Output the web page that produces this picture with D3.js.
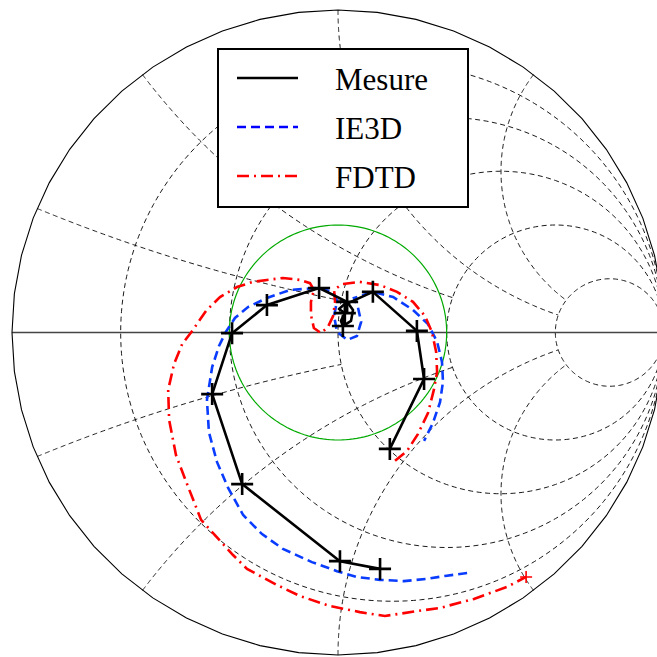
<!DOCTYPE html>
<html><head><meta charset="utf-8">
<script src="https://cdn.jsdelivr.net/npm/d3@7"></script>
<style>html,body{margin:0;padding:0;background:#fff}</style>
</head><body><svg id="c" width="657" height="657"></svg>
<script>
// ---- grid definition (Smith chart, normalized impedance) ----
const resistanceValues = [0.2, 0.5, 1, 2, 5];
const reactanceValues  = [0.2, 0.5, 1, 2];
const reactanceEnds    = [1, 2, 5, 5];   // each x-arc drawn for 0 <= r <= end
const vswrRadius = 1/3;                  // green |Gamma| circle

// ---- data: reflection coefficient (real, imag) ----
const mesureRe = [0.129, 0.006, -0.294, -0.386, -0.325, -0.218, -0.058, 0.028, 0.003, 0.021, 0.009, 0.015, 0.040, 0.046, 0.031, 0.107, 0.242, 0.264, 0.159];
const mesureIm = [-0.733, -0.709, -0.470, -0.191, -0.002, 0.085, 0.138, 0.095, 0.073, 0.060, 0.036, 0.020, 0.036, 0.070, 0.091, 0.126, 0.005, -0.144, -0.361];
const mesureMarkers = [0, 1, 2, 3, 4, 5, 6, 7, 9, 11, 15, 16, 17, 18];

const ie3dRe = [0.396, 0.328, 0.273, 0.202, 0.129, 0.058, -0.003, -0.080, -0.169, -0.233, -0.291, -0.337, -0.371, -0.396, -0.402, -0.386, -0.365, -0.344, -0.316, -0.276, -0.218, -0.147, -0.064, -0.015, -0.003, -0.012, -0.003, 0.028, 0.058, 0.071, 0.061, 0.049, 0.107, 0.169, 0.230, 0.276, 0.304, 0.319, 0.322, 0.313, 0.291, 0.264];
const ie3dIm = [-0.746, -0.755, -0.764, -0.771, -0.767, -0.758, -0.740, -0.712, -0.671, -0.625, -0.566, -0.482, -0.402, -0.309, -0.209, -0.107, -0.042, 0.002, 0.045, 0.079, 0.107, 0.132, 0.138, 0.126, 0.098, 0.051, 0.002, -0.023, -0.011, 0.033, 0.079, 0.107, 0.126, 0.110, 0.070, 0.026, -0.029, -0.091, -0.153, -0.216, -0.281, -0.336];

const fdtdRe = [0.175, 0.212, 0.245, 0.276, 0.294, 0.304, 0.301, 0.288, 0.267, 0.230, 0.181, 0.129, 0.067, 0.012, -0.012, -0.009, -0.015, -0.031, -0.052, -0.074, -0.083, -0.083, -0.074, -0.086, -0.117, -0.169, -0.218, -0.261, -0.310, -0.362, -0.405, -0.445, -0.478, -0.503, -0.521, -0.518, -0.497, -0.463, -0.420, -0.322, -0.279, -0.187, -0.117, -0.025, 0.067, 0.144, 0.242, 0.313, 0.417, 0.518, 0.577];
const fdtdIm = [-0.398, -0.367, -0.315, -0.250, -0.178, -0.122, -0.060, 0.002, 0.051, 0.095, 0.126, 0.147, 0.157, 0.150, 0.132, 0.095, 0.051, 0.017, -0.002, 0.014, 0.054, 0.095, 0.132, 0.153, 0.163, 0.169, 0.163, 0.157, 0.141, 0.110, 0.067, 0.008, -0.036, -0.098, -0.178, -0.271, -0.380, -0.470, -0.581, -0.690, -0.733, -0.783, -0.817, -0.848, -0.867, -0.879, -0.864, -0.854, -0.826, -0.789, -0.758];

const legendLabels = ["Mesure", "IE3D", "FDTD"];

// ---- scales ----
const svg = d3.select("#c");
const x = d3.scaleLinear().domain([-1, 1]).range([12, 664]);
const y = d3.scaleLinear().domain([-1, 1]).range([655, 10]);
const line = d3.line().x(d => x(d[0])).y(d => y(d[1]));
const zip = (a, b) => a.map((v, i) => [v, b[i]]);

function gammaOf(r, xx) {
  const den = (r + 1) * (r + 1) + xx * xx;
  return [((r - 1) * (r + 1) + xx * xx) / den, (2 * xx) / den];
}

const grid = svg.append("g").attr("fill", "none").attr("stroke", "#000")
  .attr("stroke-width", 0.9).attr("stroke-dasharray", "5,3.5");

// constant resistance circles
resistanceValues.forEach(r => {
  const c = r / (1 + r), rad = 1 / (1 + r);
  const pts = d3.range(0, 361, 1.5).map(a => [c + rad * Math.cos(a * Math.PI / 180), rad * Math.sin(a * Math.PI / 180)]);
  grid.append("path").attr("d", line(pts));
});

// constant reactance arcs (truncated)
reactanceValues.forEach((xv, i) => {
  const rmax = reactanceEnds[i];
  [1, -1].forEach(s => {
    const pts = d3.range(0, 1.0001, 0.004).map(t => gammaOf(rmax * t * t * t, s * xv));
    grid.append("path").attr("d", line(pts));
  });
});

// horizontal axis
svg.append("line").attr("x1", x(-1)).attr("x2", x(1)).attr("y1", y(0)).attr("y2", y(0))
  .attr("stroke", "#444").attr("stroke-width", 1.4);

// outer circle as polygon
const N = 52;
const outer = d3.range(0, N + 1).map(k => [Math.cos(2 * Math.PI * k / N), Math.sin(2 * Math.PI * k / N)]);
svg.append("path").attr("d", line(outer)).attr("fill", "none").attr("stroke", "#000").attr("stroke-width", 1.1);

// green circle
const gpts = d3.range(0, 361, 2).map(a => [vswrRadius * Math.cos(a * Math.PI / 180), vswrRadius * Math.sin(a * Math.PI / 180)]);
svg.append("path").attr("d", line(gpts)).attr("fill", "none").attr("stroke", "#00aa00").attr("stroke-width", 1.2);

// IE3D
svg.append("path").attr("d", line(zip(ie3dRe, ie3dIm))).attr("fill", "none")
  .attr("stroke", "#0a3cff").attr("stroke-width", 2.6).attr("stroke-dasharray", "9,5");

// FDTD
const fdtd = zip(fdtdRe, fdtdIm);
svg.append("path").attr("d", line(fdtd)).attr("fill", "none")
  .attr("stroke", "#ff0000").attr("stroke-width", 2.6).attr("stroke-dasharray", "12,5,2,5");
const fEnd = fdtd[fdtd.length - 1];
svg.append("path").attr("transform", `translate(${x(fEnd[0])},${y(fEnd[1])})`)
  .attr("d", "M-6,0H6M0,-6V6").attr("stroke", "#ff0000").attr("stroke-width", 1.6);

// Mesure
const mes = zip(mesureRe, mesureIm);
svg.append("path").attr("d", line(mes)).attr("fill", "none")
  .attr("stroke", "#000").attr("stroke-width", 2.6).attr("stroke-linejoin", "round");
svg.append("g").selectAll("path").data(mesureMarkers.map(i => mes[i])).join("path")
  .attr("transform", d => `translate(${x(d[0])},${y(d[1])})`)
  .attr("d", "M-11,0H11M0,-11V11").attr("stroke", "#000").attr("stroke-width", 2.6);

// legend
const lg = svg.append("g");
lg.append("rect").attr("x", 218).attr("y", 49).attr("width", 250).attr("height", 158)
  .attr("fill", "#fff").attr("stroke", "#000").attr("stroke-width", 2);
const legStyles = [
  { stroke: "#000", dash: null },
  { stroke: "#0000ff", dash: "9,5" },
  { stroke: "#ff0000", dash: "12,5,2,5" }
];
const legY = [78, 127, 176];
legendLabels.forEach((lab, i) => {
  lg.append("line").attr("x1", 237).attr("x2", 298).attr("y1", legY[i]).attr("y2", legY[i])
    .attr("stroke", legStyles[i].stroke).attr("stroke-width", 2.6)
    .attr("stroke-dasharray", legStyles[i].dash);
  lg.append("text").attr("x", 335).attr("y", legY[i] + 12).text(lab)
    .attr("font-family", "Liberation Serif, Times New Roman, serif").attr("font-size", 31).attr("fill", "#000");
});
</script></body></html>
